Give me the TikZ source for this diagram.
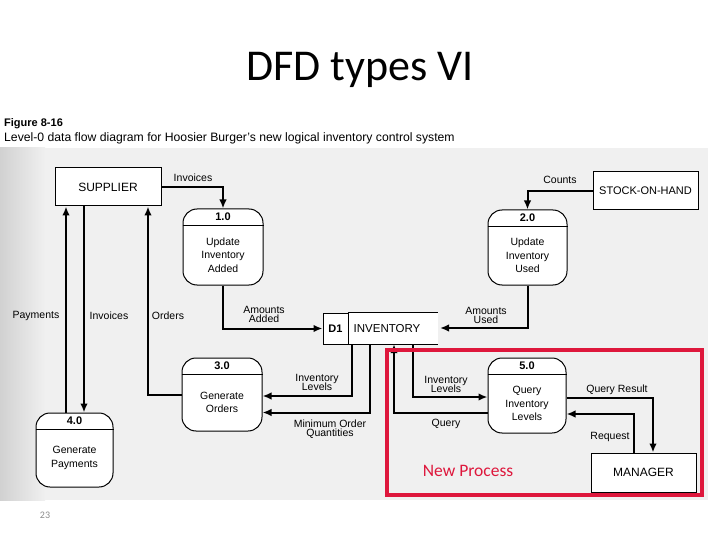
\documentclass[tikz,border=0pt]{standalone}
\usepackage{fontspec}
\setmainfont{Liberation Sans}
\newfontfamily\titlefont{Carlito}
\usetikzlibrary{arrows.meta}
\definecolor{newred}{RGB}{222,23,60}
\newcommand\dfdproc[7]{%
  \node[procbox, minimum width=#4pt, minimum height=#5pt] (#1) at (#2,#3) {};
  \draw[line width=1pt] ([yshift=-17pt]#1.north west) -- ([yshift=-17pt]#1.north east);
  \node[pnum] (#1n) at ([yshift=-8pt]#1.north) {#6};
  \node[ptext] (#1t) at ([yshift=-8pt]#1.center) {#7};
}
\begin{document}
\begin{tikzpicture}[x=1pt,y=-1pt,
  procbox/.style={draw, line width=1pt, fill=white, rounded corners=14pt, inner sep=0pt},
  entbox/.style={draw, line width=1pt, fill=white, inner sep=0pt, font=\fontsize{12}{14}\selectfont},
  pnum/.style={font=\fontsize{11}{13}\selectfont\bfseries, inner sep=0pt},
  ptext/.style={font=\fontsize{10.5}{13.5}\selectfont, align=center, inner sep=0pt},
  lbl/.style={font=\fontsize{10.5}{11}\selectfont, align=center, inner sep=0pt},
  flow/.style={line width=2pt, -{Latex[length=9pt,width=7.5pt]}}]
\useasboundingbox (0,0) rectangle (720,540);
\fill[white] (0,0) rectangle (720,540);
% stippled figure background
\fill[black!6] (0,148) rectangle (708,500);
\shade[left color=black!18, right color=black!6] (0,148) rectangle (45,500);
% title
\node[font=\titlefont\fontsize{44}{50}\selectfont] (title) at (360,70) {DFD types VI};
\node[anchor=base west, font=\fontsize{11}{12}\selectfont\bfseries, inner sep=0pt] (fig) at (4,127) {Figure 8-16};
\node[anchor=base west, font=\fontsize{12.2}{13}\selectfont, inner sep=0pt] (cap) at (4,142) {Level-0 data flow diagram for Hoosier Burger's new logical inventory control system};
% external entities
\node[entbox, minimum width=106pt, minimum height=38pt] (sup) at (108,187) {SUPPLIER};
\node[entbox, minimum width=105pt, minimum height=38pt, font=\fontsize{11}{13}\selectfont] (soh) at (645.5,191) {STOCK-ON-HAND};
\node[entbox, minimum width=105pt, minimum height=39pt] (mgr) at (643.5,472.5) {MANAGER};
% processes
\dfdproc{p1}{223}{247}{80}{76}{1.0}{Update\\Inventory\\Added}
\dfdproc{p2}{527.5}{247.5}{79}{75}{2.0}{Update\\Inventory\\Used}
\dfdproc{p3}{222}{394.5}{80}{73}{3.0}{Generate\\Orders}
\dfdproc{p4}{74.5}{450}{77}{74}{4.0}{Generate\\Payments}
\dfdproc{p5}{527}{395.5}{78}{75}{5.0}{Query\\Inventory\\Levels}
% data store
\fill[white] (323,313) rectangle (438,344);
\node[draw, line width=1pt, minimum width=25pt, minimum height=31pt, inner sep=0pt, font=\fontsize{11}{12}\selectfont\bfseries] (d1) at (335.5,328.5) {D1};
\node[minimum width=90pt, minimum height=31pt, inner sep=0pt] (inv) at (393,328.5) {};
\node[font=\fontsize{11.5}{12}\selectfont, inner sep=0pt] (invtxt) at (387,328.5) {INVENTORY};
\draw[line width=1pt] (inv.north west) -- (inv.north east);
\draw[line width=1pt] (inv.south west) -- (inv.south east);
\coordinate (invr) at (440,328);
% flows
\draw[flow] (sup.east) -| (p1.north);
\node[lbl] (l1) at (193,178) {Invoices};
\draw[flow] (soh.west) -| (p2.north);
\node[lbl] (l2) at (560,180) {Counts};
\draw[flow] (p1.south) |- (d1.west);
\node[lbl] (l3) at (264,314) {Amounts\\[-2pt]Added};
\draw[flow] (p2.south) |- (invr);
\node[lbl] (l4) at (486,315) {Amounts\\[-2pt]Used};
\draw[flow] (p3.west) -| ([xshift=40pt]sup.south);
\node[lbl] (l5) at (168,316) {Orders};
\draw[flow] ([xshift=-8.5pt]p4.north) -- ([xshift=-8.5pt]p4.north |- sup.south);
\node[lbl] (l6) at (36,316) {Payments};
\draw[flow] ([xshift=-24pt]sup.south) -- ([xshift=-24pt]sup.south |- p4.north);
\node[lbl] (l7) at (109,316) {Invoices};
\draw[flow] ([xshift=-41pt]inv.south) |- ([yshift=-1.5pt]p3.east);
\node[lbl] (l8) at (317,382) {Inventory\\[-2pt]Levels};
\draw[flow] ([xshift=-23pt]inv.south) |- ([yshift=-18pt]p3.east);
\node[lbl] (l9) at (330,429) {Minimum Order\\[-2pt]Quantities};
\draw[flow] ([xshift=20pt]inv.south) |- ([yshift=-1.5pt]p5.west);
\node[lbl] (l10) at (446,384) {Inventory\\[-2pt]Levels};
\draw[flow] ([yshift=-17.5pt]p5.west) -| ([xshift=1pt]inv.south);
\node[lbl] (l11) at (446,424) {Query};
\draw[flow] ([yshift=-2.5pt]p5.east) -| ([xshift=9.5pt]mgr.north);
\node[lbl] (l12) at (617,390) {Query Result};
\draw[flow] ([xshift=-9.5pt]mgr.north) |- ([yshift=-18.5pt]p5.east);
\node[lbl] (l13) at (610,437) {Request};
% highlight
\draw[newred, line width=4pt] (387,350) rectangle (702,495);
\node[text=newred, font=\titlefont\fontsize{17.5}{19}\selectfont] (np) at (468,471) {New Process};
\node[text=black!45, font=\titlefont\fontsize{10}{12}\selectfont] (pg) at (45,515) {23};
\end{tikzpicture}
\end{document}
